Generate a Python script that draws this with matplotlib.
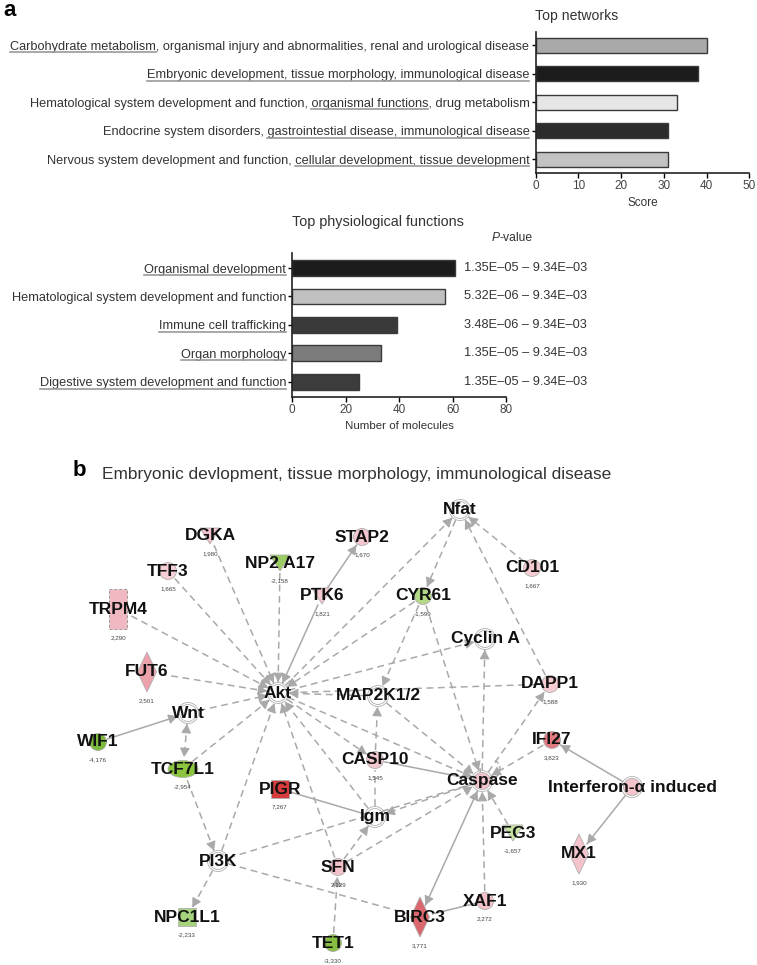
import numpy as np
import matplotlib
matplotlib.use('Agg')
import matplotlib.pyplot as plt
from matplotlib import font_manager
from matplotlib.patches import Circle, Ellipse, Polygon, Rectangle, Arc
from matplotlib.lines import Line2D

W, H = 757, 965

# ---- panel a: top networks
net_labels = [
    'Carbohydrate metabolism, organismal injury and abnormalities, renal and urological disease',
    'Embryonic development, tissue morphology, immunological disease',
    'Hematological system development and function, organismal functions, drug metabolism',
    'Endocrine system disorders, gastrointestial disease, immunological disease',
    'Nervous system development and function, cellular development, tissue development',
]
net_underline = [
    'Carbohydrate metabolism',
    'Embryonic development, tissue morphology, immunological disease',
    'organismal functions',
    'gastrointestial disease, immunological disease',
    'cellular development, tissue development',
]
net_scores = [40, 38, 33, 31, 31]
net_colors = ['#a9a9a9', '#1c1c1c', '#e6e6e6', '#2c2c2c', '#c2c2c2']

# ---- panel a: top physiological functions
fun_labels = [
    'Organismal development',
    'Hematological system development and function',
    'Immune cell trafficking',
    'Organ morphology',
    'Digestive system development and function',
]
fun_underline = [
    'Organismal development',
    None,
    'Immune cell trafficking',
    'Organ morphology',
    'Digestive system development and function',
]
fun_counts = [61, 57, 39, 33, 25]
fun_pvalues = ['1.35E–05 – 9.34E–03', '5.32E–06 – 9.34E–03', '3.48E–06 – 9.34E–03',
               '1.35E–05 – 9.34E–03', '1.35E–05 – 9.34E–03']
fun_colors = ['#1c1c1c', '#c0c0c0', '#3a3a3a', '#7c7c7c', '#3c3c3c']

# ---- panel b: network (layout in image pixels)
genes = ['Akt', 'Nfat', 'DGKA', 'NP2 A17', 'STAP2', 'TFF3', 'PTK6', 'TRPM4', 'FUT6',
         'CD101', 'CYR61', 'Cyclin A', 'MAP2K1/2', 'DAPP1', 'Wnt', 'WIF1', 'TCF7L1',
         'CASP10', 'PIGR', 'Igm', 'Caspase', 'IFI27', 'Interferon-α induced', 'PEG3',
         'MX1', 'PI3K', 'SFN', 'NPC1L1', 'TET1', 'XAF1', 'BIRC3']
gene_x = [278, 460, 210, 280, 362, 168, 322, 118, 147, 532, 423, 485, 378, 550, 188, 98,
          183, 375, 280, 375, 482, 552, 632, 513, 579, 218, 338, 187, 333, 485, 420]
gene_y = [693, 510, 536, 563, 537, 571, 596, 609, 672, 568, 596, 639, 696, 684, 713, 742,
          769, 760, 789, 817, 781, 740, 787, 833, 854, 861, 867, 917, 943, 901, 917]
gene_fc = [None, None, '1,980', '-2,158', '1,670', '1,665', '1,821', '2,290', '2,501',
           '1,667', '-1,599', None, None, '1,588', None, '-4,176', '-2,954', '1,545',
           '7,267', None, None, '3,823', None, '-1,657', '1,930', None, '2,129',
           '-2,233', '-3,330', '2,272', '3,771']
gene_shape = ['group', 'group', 'tri', 'tri', 'circle', 'circle', 'tri', 'rect', 'diamond',
              'circle', 'circle', 'group', 'group', 'circle', 'group', 'circle', 'ellipse',
              'circle', 'square', 'group', 'group', 'circle', 'group', 'tri', 'diamond',
              'group', 'circle', 'square', 'circle', 'circle', 'diamond']
gene_color = ['#ffffff', '#ffffff', '#f2c2ca', '#9ccb62', '#f4c6ce', '#f5cfd5', '#f3c8cf',
              '#f0b9c1', '#eba2aa', '#f4cbd1', '#b3d888', '#ffffff', '#ffffff', '#f5ccd2',
              '#ffffff', '#7cba3c', '#8cc540', '#f3c8ce', '#d63c3c', '#ffffff', '#f1c4ca',
              '#e27a80', '#f3c5cb', '#c9e3a2', '#f3c4cb', '#ffffff', '#f2c1c8', '#a6d47d',
              '#86bf42', '#f3c2c8', '#d9676d']
# (source, target, kind, arrowheads) kind: d dashed / s solid; heads at '>' target, '<' source
edges = [
    ('DGKA', 'Akt', 'd', '>'), ('TFF3', 'Akt', 'd', '>'), ('TRPM4', 'Akt', 'd', '>'),
    ('FUT6', 'Akt', 'd', '>'), ('NP2 A17', 'Akt', 'd', '>'), ('PTK6', 'Akt', 's', '>'),
    ('PTK6', 'STAP2', 's', '>'), ('Wnt', 'Akt', 'd', '>'), ('CYR61', 'Akt', 'd', '>'),
    ('Akt', 'Nfat', 'd', '>'), ('Akt', 'Cyclin A', 'd', '>'), ('MAP2K1/2', 'Akt', 'd', '>'),
    ('Akt', 'CASP10', 'd', '>'), ('Akt', 'Caspase', 'd', '>'), ('Igm', 'Akt', 'd', '>'),
    ('TCF7L1', 'Akt', 'd', '>'), ('PI3K', 'Akt', 'd', '>'), ('SFN', 'Akt', 'd', '>'),
    ('Akt', 'DAPP1', 'd', ''), ('Nfat', 'CYR61', 'd', '>'), ('CD101', 'Nfat', 'd', '>'),
    ('DAPP1', 'Nfat', 'd', '>'), ('CYR61', 'MAP2K1/2', 'd', '>'), ('CYR61', 'Caspase', 'd', '>'),
    ('Caspase', 'Cyclin A', 'd', '>'), ('CASP10', 'MAP2K1/2', 'd', '>'),
    ('MAP2K1/2', 'Caspase', 'd', '>'), ('CASP10', 'Caspase', 's', ''),
    ('Igm', 'CASP10', 'd', ''), ('Caspase', 'Igm', 'd', '>'), ('Caspase', 'DAPP1', 'd', '>'),
    ('IFI27', 'Caspase', 'd', '>'), ('PEG3', 'Caspase', 'd', '>'), ('XAF1', 'Caspase', 'd', '>'),
    ('Caspase', 'BIRC3', 's', '<>'), ('BIRC3', 'XAF1', 's', ''),
    ('Interferon-α induced', 'IFI27', 's', '>'), ('Interferon-α induced', 'MX1', 's', '>'),
    ('PIGR', 'Igm', 's', ''), ('PI3K', 'Caspase', 'd', ''), ('PI3K', 'NPC1L1', 'd', '>'),
    ('PI3K', 'BIRC3', 'd', ''), ('TCF7L1', 'PI3K', 'd', '>'), ('Wnt', 'TCF7L1', 'd', '<>'),
    ('WIF1', 'Wnt', 's', '>'), ('SFN', 'Igm', 'd', '>'), ('SFN', 'Caspase', 'd', '>'),
    ('TET1', 'SFN', 'd', '>'),
]
title_b = 'Embryonic devlopment, tissue morphology, immunological disease'


def pick_font(names):
    for n in names:
        try:
            font_manager.findfont(n, fallback_to_default=False)
            return n
        except ValueError:
            pass
    return 'DejaVu Sans'


lab_font = pick_font(['Liberation Sans Narrow', 'Liberation Sans'])
node_font = pick_font(['Liberation Sans', 'DejaVu Sans'])
txt_col = '#333333'

fig = plt.figure(figsize=(W / 100, H / 100), dpi=100)
renderer = fig.canvas.get_renderer()


def fit(s, px, weight='normal', style='normal'):
    fp = font_manager.FontProperties(family=lab_font, size=10, weight=weight, style=style)
    w = renderer.get_text_width_height_descent(s, fp, ismath=False)[0]
    return 10 * px / w


fs_lab = fit(net_labels[0], 523)

net = fig.add_axes([0, 0, 1, 1])
net.set_xlim(0, W)
net.set_ylim(H, 0)
net.axis('off')

# ---------- bar chart 1
ax1 = fig.add_axes([535.7 / W, 1 - 172.7 / H, 213.6 / W, 141 / H])
ax1.barh(range(5), net_scores, height=0.52, color=net_colors, edgecolor='#3a3a3a', linewidth=1)
ax1.set_ylim(4.47, -0.47)
ax1.set_xlim(0, 50)
ax1.set_xticks(range(0, 51, 10))
ax1.set_yticks(range(5))
ax1.set_yticklabels(net_labels, fontsize=fs_lab, family=lab_font, color=txt_col)
ax1.set_xlabel('Score', fontsize=fit('Score', 31), family=lab_font, color=txt_col, labelpad=3)
net.text(535, 16, 'Top networks', fontsize=fit('Top networks', 83), family=lab_font,
         color=txt_col, ha='left', va='center')

# ---------- bar chart 2
ax2 = fig.add_axes([292.3 / W, 1 - 396.7 / H, 214 / W, 143.4 / H])
ax2.barh(range(5), fun_counts, height=0.56, color=fun_colors, edgecolor='#3a3a3a', linewidth=1)
ax2.set_ylim(4.53, -0.52)
ax2.set_xlim(0, 80)
ax2.set_xticks(range(0, 81, 20))
ax2.set_yticks(range(5))
ax2.set_yticklabels(fun_labels, fontsize=fs_lab, family=lab_font, color=txt_col)
ax2.set_xlabel('Number of molecules', fontsize=fit('Number of molecules', 109),
               family=lab_font, color=txt_col, labelpad=3)
net.text(292, 222, 'Top physiological functions',
         fontsize=fit('Top physiological functions', 171), family=lab_font,
         color=txt_col, ha='left', va='center')
net.text(500, 238, 'P', fontsize=fs_lab * 0.95, family=lab_font, style='italic',
         color=txt_col, ha='right', va='center')
net.text(500, 238, '-value', fontsize=fs_lab * 0.95, family=lab_font,
         color=txt_col, ha='left', va='center')
for i, pv in enumerate(fun_pvalues):
    ax2.text(0.802, i, pv, transform=ax2.get_yaxis_transform(), fontsize=fs_lab,
             family=lab_font, color=txt_col, ha='left', va='center')

for ax in (ax1, ax2):
    for side in ('top', 'right'):
        ax.spines[side].set_visible(False)
    for side in ('left', 'bottom'):
        ax.spines[side].set_linewidth(1.2)
        ax.spines[side].set_color('#222222')
    ax.tick_params(axis='x', length=3.5, width=1, pad=2, labelsize=8.5, labelcolor='#444444')
    ax.tick_params(axis='y', length=3, width=1, pad=1.5)
    for t in ax.get_xticklabels():
        t.set_family(lab_font)

net.text(3, 10, 'a', fontsize=16, fontweight='bold', family=node_font, ha='left', va='center')
net.text(73, 470, 'b', fontsize=16, fontweight='bold', family=node_font, ha='left', va='center')
net.text(102, 474, title_b, fontsize=fit(title_b, 508), family=lab_font, color=txt_col,
         ha='left', va='center')

# ---------- network
pos = {g: (x, y) for g, x, y in zip(genes, gene_x, gene_y)}
shape_of = dict(zip(genes, gene_shape))
edge_col = '#a9a9a9'
reach = {'group': 11, 'circle': 10, 'tri': 10, 'rect': 15, 'diamond': 13, 'square': 11,
         'ellipse': 12}


def head(x0, y0, x1, y1):
    d = np.hypot(x1 - x0, y1 - y0)
    ux, uy = (x1 - x0) / d, (y1 - y0) / d
    net.annotate('', xy=(x1, y1), xytext=(x1 - ux * 8, y1 - uy * 8),
                 arrowprops=dict(arrowstyle='-|>,head_length=0.55,head_width=0.3',
                                 color=edge_col, lw=0.8, shrinkA=0, shrinkB=0,
                                 mutation_scale=10), zorder=1)


for src, dst, kind, heads in edges:
    (xa, ya), (xb, yb) = pos[src], pos[dst]
    d = np.hypot(xb - xa, yb - ya)
    ux, uy = (xb - xa) / d, (yb - ya) / d
    ra, rb = reach[shape_of[src]], reach[shape_of[dst]]
    sx, sy = xa + ux * ra, ya + uy * ra
    ex, ey = xb - ux * rb, yb - uy * rb
    ls = (0, (4.5, 3)) if kind == 'd' else '-'
    net.plot([sx, ex], [sy, ey], color=edge_col, lw=1.1, linestyle=ls, zorder=1)
    if '>' in heads:
        head(sx, sy, ex, ey)
    if '<' in heads:
        head(ex, ey, sx, sy)

# self loop on Caspase
cx, cy = pos['Caspase']
net.add_patch(Arc((cx + 8, cy - 12), 20, 20, theta1=-60, theta2=200, color=edge_col,
                  lw=1.1, linestyle=(0, (3, 2)), zorder=1))

edge_node = '#b0b0b0'
for g, x, y, shp, col, fc in zip(genes, gene_x, gene_y, gene_shape, gene_color, gene_fc):
    kw = dict(facecolor=col, edgecolor=edge_node, lw=0.6, zorder=2)
    if shp == 'group':
        net.add_patch(Circle((x, y), 8.5, **kw))
        net.add_patch(Circle((x, y), 10.5, facecolor='none', edgecolor=edge_node, lw=0.6, zorder=2))
    elif shp == 'circle':
        net.add_patch(Circle((x, y), 8.5, **kw))
    elif shp == 'tri':
        net.add_patch(Polygon([(x - 10, y - 8), (x + 10, y - 8), (x, y + 8)], **kw))
    elif shp == 'diamond':
        net.add_patch(Polygon([(x, y - 20), (x + 9.5, y), (x, y + 20), (x - 9.5, y)], **kw))
    elif shp == 'rect':
        net.add_patch(Rectangle((x - 9, y - 20), 18, 40, facecolor=col, edgecolor='#999999',
                                lw=0.7, linestyle=(0, (3, 2)), zorder=2))
    elif shp == 'square':
        net.add_patch(Rectangle((x - 9, y - 9), 18, 18, **kw))
    elif shp == 'ellipse':
        net.add_patch(Ellipse((x, y), 30, 17, **kw))
    net.text(x, y, g, fontsize=12.5, fontweight='bold', family=node_font, color='#111111',
             ha='center', va='center', zorder=3)
    if fc:
        off = 29 if shp in ('diamond', 'rect') else 18
        net.text(x, y + off, fc, fontsize=4.5, family=node_font, color='#444444',
                 ha='center', va='center', zorder=3)

# ---------- underlines under parts of the bar labels
fig.canvas.draw()
renderer = fig.canvas.get_renderer()
for ax, labels, unders in ((ax1, net_labels, net_underline), (ax2, fun_labels, fun_underline)):
    for t, lab, sub in zip(ax.get_yticklabels(), labels, unders):
        if not sub:
            continue
        bb = t.get_window_extent(renderer)
        fp = t.get_fontproperties()
        i = lab.index(sub)
        w_end = renderer.get_text_width_height_descent(lab[:i + len(sub)], fp, ismath=False)[0]
        w_sub = renderer.get_text_width_height_descent(sub, fp, ismath=False)[0]
        x1 = bb.x0 + w_end
        x0 = x1 - w_sub
        y = bb.y0 + 0.5
        fig.add_artist(Line2D([x0 / W, x1 / W], [y / H, y / H], transform=fig.transFigure,
                              color='#9a9a9a', lw=1.2))

fig.savefig('out.png', dpi=100)
